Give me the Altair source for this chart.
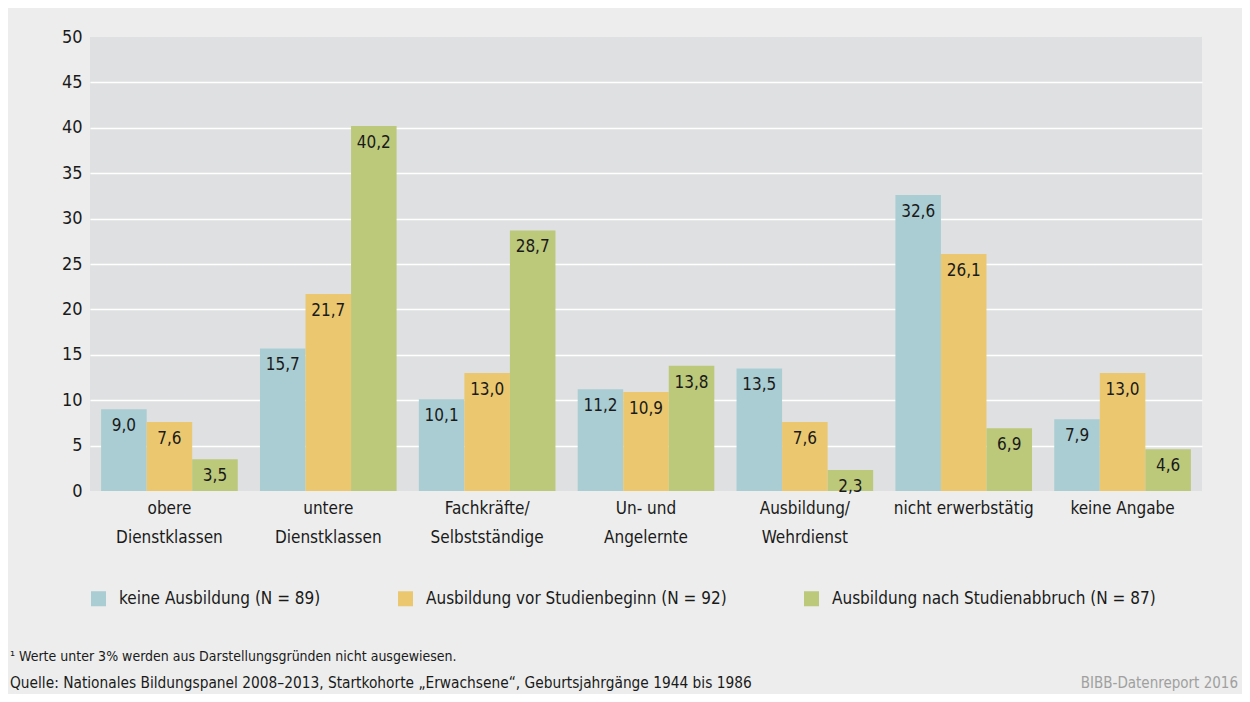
import altair as alt
import pandas as pd

categories = ["obere|Dienstklassen", "untere|Dienstklassen", "Fachkräfte/|Selbstständige",
              "Un-  und|Angelernte", "Ausbildung/|Wehrdienst", "nicht erwerbstätig", "keine Angabe"]
series = ["keine Ausbildung (N = 89)", "Ausbildung vor Studienbeginn (N = 92)",
          "Ausbildung nach Studienabbruch (N = 87)"]
keine_ausbildung = [9.0, 15.7, 10.1, 11.2, 13.5, 32.6, 7.9]
vor_studienbeginn = [7.6, 21.7, 13.0, 10.9, 7.6, 26.1, 13.0]
nach_studienabbruch = [3.5, 40.2, 28.7, 13.8, 2.3, 6.9, 4.6]
colors = ["#a9cdd3", "#ebc86f", "#bcc87a"]
y_ticks = list(range(0, 55, 5))

footnote = "¹ Werte unter 3% werden aus Darstellungsgründen nicht ausgewiesen."
source = "Quelle: Nationales Bildungspanel 2008–2013, Startkohorte „Erwachsene“, Geburtsjahrgänge 1944 bis 1986"
credit = "BIBB-Datenreport 2016"

rows = []
for s, vals in zip(series, [keine_ausbildung, vor_studienbeginn, nach_studienabbruch]):
    for c, v in zip(categories, vals):
        rows.append({"cat": c, "series": s, "value": v})
df = pd.DataFrame(rows)

FONT = "DejaVu Sans Condensed, Liberation Sans Narrow, sans-serif"
TXT = "#1a1a1a"

base = alt.Chart(df).encode(
    x=alt.X("cat:N", sort=categories,
            scale=alt.Scale(paddingInner=0.14, paddingOuter=0.07),
            axis=alt.Axis(title=None, labelExpr="split(datum.label, '|')", labelAngle=0,
                          ticks=False, domain=False, labelFontSize=17, labelLineHeight=29,
                          labelPadding=9, labelColor=TXT, labelFont=FONT, grid=False)),
    xOffset=alt.XOffset("series:N", sort=series),
)

bars = base.mark_bar().encode(
    y=alt.Y("value:Q", scale=alt.Scale(domain=[0, 50], nice=False),
            axis=alt.Axis(title=None, values=y_ticks, ticks=False, domain=False,
                          labelFontSize=18, labelColor=TXT, labelFont=FONT, labelPadding=8,
                          grid=True, gridWidth=1.5,
                          gridColor={"condition": {"test": "datum.value == 0 || datum.value == 50",
                                                   "value": "transparent"},
                                     "value": "white"})),
    color=alt.Color("series:N", sort=series,
                    scale=alt.Scale(domain=series, range=colors),
                    legend=alt.Legend(title=None, orient="none", legendX=0, legendY=553,
                                      direction="horizontal", columnPadding=76,
                                      labelFontSize=17, labelFont=FONT, labelColor=TXT,
                                      labelLimit=0,
                                      symbolType="square", symbolSize=225,
                                      symbolStrokeWidth=0, labelOffset=12,
                                      symbolOpacity=1)),
)

labels = base.mark_text(baseline="top", dy=9, fontSize=17, font=FONT, color=TXT).transform_calculate(
    lbl="replace(format(datum.value, '.1f'), '.', ',')"
).encode(y="value:Q", text="lbl:N")

foot = alt.Chart(pd.DataFrame({"t": [footnote]})).mark_text(
    align="left", baseline="alphabetic", fontSize=14, font=FONT, color=TXT
).encode(x=alt.value(-80), y=alt.value(624), text="t:N")

src = alt.Chart(pd.DataFrame({"t": [source]})).mark_text(
    align="left", baseline="alphabetic", fontSize=15.3, font=FONT, color=TXT
).encode(x=alt.value(-80), y=alt.value(651), text="t:N")

cred = alt.Chart(pd.DataFrame({"t": [credit]})).mark_text(
    align="right", baseline="alphabetic", fontSize=15, font=FONT, color="#a0a0a0"
).encode(x=alt.value(1148), y=alt.value(651), text="t:N")

chart = alt.layer(bars, labels, foot, src, cred).properties(
    width=1112, height=454,
    autosize=alt.AutoSizeParams(type="none"),
    padding={"left": 82, "top": 29, "right": 40, "bottom": 203},
    background="#ecedec",
).configure_view(fill="#dfe0e1", stroke=None)

chart.save("out.html", embed_options={"renderer": "svg", "actions": False})
